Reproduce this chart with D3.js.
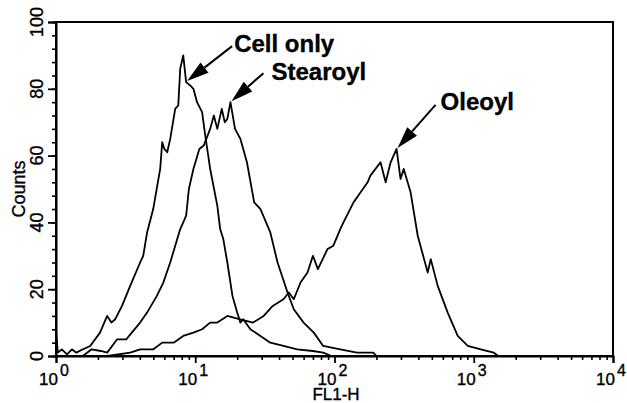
<!DOCTYPE html>
<html>
<head>
<meta charset="utf-8">
<script src="https://cdn.jsdelivr.net/npm/d3@7"></script>
<style>
  body { margin: 0; background: #fff; }
  svg { display: block; }
  text { font-family: "Liberation Sans", Arial, sans-serif; fill: #000; stroke: #000; stroke-width: 0.35; }
</style>
</head>
<body>
<div id="viz-container"></div>
<script>
const width = 627, height = 403;

// FL1-H values and counts
const cellX = [1, 1.03, 1.1, 1.2, 1.3, 1.4, 1.56, 1.76, 2.07, 2.33, 2.5, 2.66, 2.98, 3.41, 4.02, 4.23, 4.51, 4.99, 5.6, 5.79, 6.0, 6.29, 6.61, 7.18, 7.55, 7.8, 8.2, 8.6, 9.2, 9.7, 10.3, 11.2, 11.8, 12.8, 14.4, 15.1, 15.9, 17.0, 18.5, 20.0, 21.1, 22.1, 24.9, 29.4, 34.6, 43, 54, 70, 83, 95];
const cellY = [8, 1, 2, 0.5, 2, 1, 2, 3, 7, 12, 10, 11, 15, 21, 28, 30, 37, 44, 56, 64, 62, 61, 65, 74, 75, 86, 90, 82, 81, 80, 76, 73, 66, 56, 45, 38, 35, 28, 18, 13, 10, 11, 8, 6, 4, 3, 2, 1.5, 1, 0];

const stearoylX = [1.56, 1.8, 2.1, 2.33, 2.75, 3.2, 3.5, 4.02, 4.51, 5.3, 5.9, 6.61, 7.8, 8.2, 8.6, 9.0, 9.7, 10.7, 11.5, 12.8, 13.6, 14.4, 15.5, 16.3, 17.0, 17.9, 19.3, 21.1, 23.5, 26.5, 29.4, 34.6, 39, 46, 51, 60, 71, 83, 110, 145, 190, 200];
const stearoylY = [0, 2, 1.5, 1, 5, 5, 7, 10, 13, 18, 22, 28, 38, 40, 42, 50, 56, 62, 63, 68, 72, 68, 74, 70, 71, 76, 68, 65, 58, 46, 44, 37, 28, 19, 14, 10, 7, 3, 2, 1, 1, 0];

const oleoylX = [2.33, 3.41, 4.02, 5.0, 5.8, 7.0, 8.2, 9.7, 11.2, 12.8, 14.4, 17, 21, 26, 31, 36, 43, 47, 51, 57, 64, 70, 76, 89, 98, 110, 116, 137, 154, 173, 181, 214, 233, 253, 279, 298, 314, 352, 396, 467, 491, 551, 650, 767, 906, 1122, 1393, 1500];
const oleoylY = [0, 1, 2, 2, 4, 4, 6, 7, 8, 10, 10, 12, 11, 10, 12, 15, 17, 19, 17, 22, 25, 30, 26, 32, 33, 38, 40, 46, 49, 52, 54, 58, 52, 58, 62, 53, 56, 49, 36, 25, 29, 21, 13, 6, 3, 2, 1, 0];

// Annotations : nom, cible (FL1-H, counts)
const labels = ["Cell only", "Stearoyl", "Oleoyl"];
const labelTargetX = [8.6, 17.9, 279];
const labelTargetY = [82, 76, 62];

// Ticks
const xTicks = [1, 10, 100, 1000, 10000];
const xTickExp = ["0", "1", "2", "3", "4"];
const yTicks = [0, 20, 40, 60, 80, 100];

const svg = d3.select("#viz-container")
  .append("svg")
  .attr("width", width)
  .attr("height", height);

const plotLeft = 56, plotRight = 613, plotTop = 22, plotBottom = 356;

const x = d3.scaleLog().domain([1, 10000]).range([plotLeft, plotRight]);
const y = d3.scaleLinear().domain([0, 100]).range([plotBottom, plotTop]);

// Cadre
svg.append("rect")
  .attr("x", plotLeft).attr("y", plotTop)
  .attr("width", plotRight - plotLeft).attr("height", plotBottom - plotTop)
  .attr("fill", "none")
  .attr("stroke", "#000")
  .attr("stroke-width", 2);

// Axe Y : petites graduations tous les 4, grandes tous les 20
svg.append("g")
  .attr("transform", `translate(${plotLeft},0)`)
  .call(d3.axisLeft(y).tickValues(d3.range(0, 101, 4)).tickSize(4).tickFormat(""))
  .call(g => g.select(".domain").remove())
  .selectAll("line").attr("stroke-width", 1.6);

svg.append("g")
  .attr("transform", `translate(${plotLeft},0)`)
  .call(d3.axisLeft(y).tickValues(yTicks).tickSize(8).tickFormat(""))
  .call(g => g.select(".domain").attr("stroke-width", 2))
  .selectAll("line").attr("stroke-width", 1.8);

svg.append("g")
  .selectAll("text")
  .data(yTicks)
  .join("text")
  .attr("transform", d => `translate(43,${y(d)}) rotate(-90)`)
  .attr("text-anchor", "middle")
  .style("font-size", "18px")
  .text(d => d);

// Axe X : graduations logarithmiques
const minorX = [];
for (let e = 0; e < 4; e++) {
  for (let m = 2; m <= 9; m++) minorX.push(m * Math.pow(10, e));
}

svg.append("g")
  .attr("transform", `translate(0,${plotBottom})`)
  .call(d3.axisBottom(x).tickValues(minorX).tickSize(4).tickFormat(""))
  .call(g => g.select(".domain").remove())
  .selectAll("line").attr("stroke-width", 1.6);

svg.append("g")
  .attr("transform", `translate(0,${plotBottom})`)
  .call(d3.axisBottom(x).tickValues(xTicks).tickSize(7).tickFormat(""))
  .call(g => g.select(".domain").attr("stroke-width", 2))
  .selectAll("line").attr("stroke-width", 1.8);

const xLab = svg.append("g")
  .selectAll("g")
  .data(xTicks)
  .join("g");
xLab.append("text")
  .attr("x", d => x(d) + 2)
  .attr("y", 385)
  .attr("text-anchor", "end")
  .style("font-size", "17px")
  .text("10");
xLab.append("text")
  .attr("x", d => x(d) + 4)
  .attr("y", 376)
  .attr("text-anchor", "start")
  .style("font-size", "16px")
  .text((d, i) => xTickExp[i]);

// Titres des axes
svg.append("text")
  .attr("x", 336)
  .attr("y", 400)
  .attr("text-anchor", "middle")
  .style("font-size", "17px")
  .text("FL1-H");

svg.append("text")
  .attr("transform", `translate(25,${(plotTop + plotBottom) / 2}) rotate(-90)`)
  .attr("text-anchor", "middle")
  .style("font-size", "18px")
  .text("Counts");

// Courbes
const line = d3.line()
  .x(d => x(d[0]))
  .y(d => y(d[1]));

const series = [
  d3.zip(cellX, cellY),
  d3.zip(stearoylX, stearoylY),
  d3.zip(oleoylX, oleoylY)
];

svg.append("g")
  .selectAll("path")
  .data(series)
  .join("path")
  .attr("d", line)
  .attr("fill", "none")
  .attr("stroke", "#000")
  .attr("stroke-width", 1.8)
  .attr("stroke-linejoin", "round");

// Flèches + étiquettes
const arrowOffsets = [[45, -35], [32, -28], [38, -43]];
const textOffsets = [[2, 6], [8, 7], [5, 5]];

labels.forEach((name, i) => {
  const tx = x(labelTargetX[i]) + 1, ty = y(labelTargetY[i]) - 1;
  const sx = tx + arrowOffsets[i][0], sy = ty + arrowOffsets[i][1];
  const len = Math.hypot(sx - tx, sy - ty);
  const ux = (sx - tx) / len, uy = (sy - ty) / len;
  const headL = 22, headW = 6.5;
  const bx = tx + ux * headL, by = ty + uy * headL;

  svg.append("line")
    .attr("x1", sx).attr("y1", sy)
    .attr("x2", bx).attr("y2", by)
    .attr("stroke", "#000")
    .attr("stroke-width", 2);

  svg.append("path")
    .attr("d", `M${tx},${ty}L${bx - uy * headW},${by + ux * headW}L${bx + uy * headW},${by - ux * headW}Z`)
    .attr("fill", "#000");

  svg.append("text")
    .attr("x", sx + textOffsets[i][0])
    .attr("y", sy + textOffsets[i][1])
    .style("font-size", "24px")
    .style("font-weight", "bold")
    .text(name);
});
</script>
</body>
</html>
